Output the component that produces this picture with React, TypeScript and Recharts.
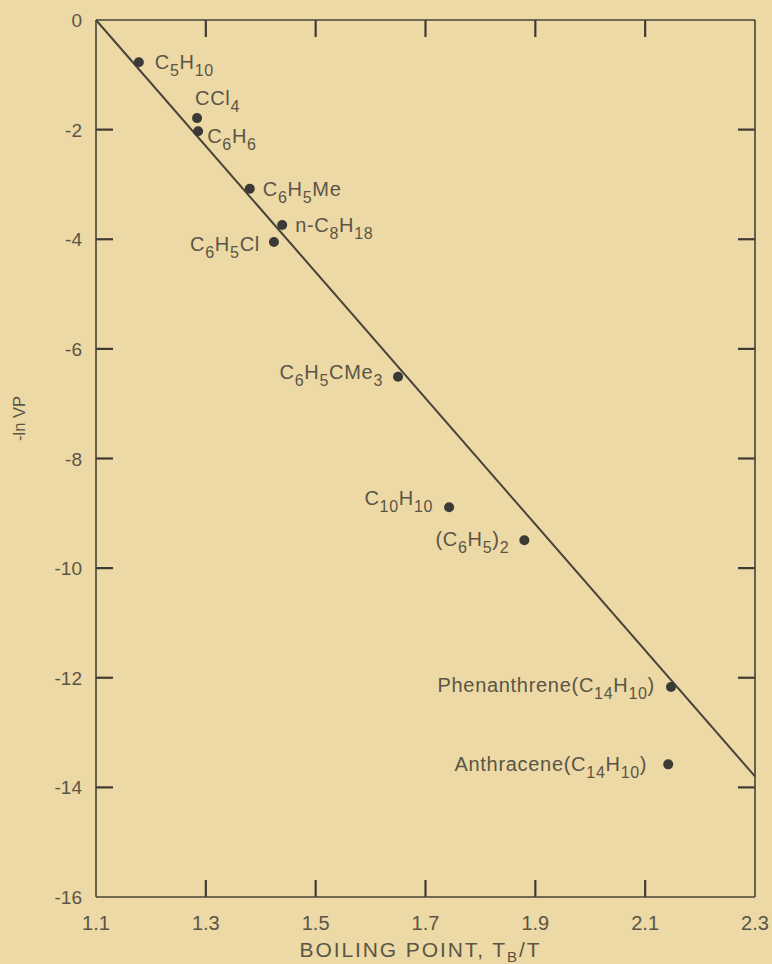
import React from 'react';
import { ScatterChart, Scatter, XAxis, YAxis, ReferenceLine, Label } from 'recharts';

// compound names, subscripts written in braces
const COMPOUNDS = [
  'C{5}H{10}',
  'CCl{4}',
  'C{6}H{6}',
  'C{6}H{5}Me',
  'n-C{8}H{18}',
  'C{6}H{5}Cl',
  'C{6}H{5}CMe{3}',
  'C{10}H{10}',
  '(C{6}H{5}){2}',
  'Phenanthrene(C{14}H{10})',
  'Anthracene(C{14}H{10})',
];
const BOILING_RATIO = [1.178, 1.284, 1.286, 1.38, 1.439, 1.424, 1.65, 1.743, 1.88, 2.147, 2.142];
const NEG_LN_VP = [-0.77, -1.79, -2.03, -3.08, -3.74, -4.05, -6.51, -8.89, -9.49, -12.17, -13.58];

const X_TICKS = [1.1, 1.3, 1.5, 1.7, 1.9, 2.1, 2.3];
const Y_TICKS = [0, -2, -4, -6, -8, -10, -12, -14, -16];

// fitted straight line end points
const FIT_X = [1.1, 2.3];
const FIT_Y = [0, -13.8];

// label placement next to each dot: anchor, dx, dy(baseline)
const LABEL_POS: [string, number, number][] = [
  ['start', 16, 7],
  ['start', -2, -13],
  ['start', 9, 12],
  ['start', 13, 7],
  ['start', 13, 7],
  ['end', -14, 9],
  ['end', -15, 2],
  ['end', -16, -2],
  ['end', -15, 6],
  ['end', -16, 5],
  ['end', -21, 7],
];

const BG = '#ecd9a5';
const INK = '#47433a';
const TICK_INK = '#3f3b33';
const TEXT = '#5a5546';
const DOT = '#3b3a36';
const FONT = "'Liberation Sans', Arial, sans-serif";
// inward tick mark length in axis units (about 17px)
const X_TICK_LEN = 0.31;
const Y_TICK_LEN = 0.031;

const points = COMPOUNDS.map((name, i) => ({ name, x: BOILING_RATIO[i], y: NEG_LN_VP[i], idx: i }));

const formula = (s: string, size: number, subSize: number, shift: number) => {
  const parts = s.split(/(\{[^}]*\})/).filter(Boolean);
  let inSub = false;
  return parts.map((p, i) => {
    const isSub = p.startsWith('{');
    const dy = isSub && !inSub ? shift : !isSub && inSub ? -shift : 0;
    inSub = isSub;
    return (
      <tspan key={i} dy={dy} fontSize={isSub ? subSize : size}>
        {isSub ? p.slice(1, -1) : p}
      </tspan>
    );
  });
};

const DotWithLabel = (props: any) => {
  const { cx, cy, payload } = props;
  const [anchor, dx, dy] = LABEL_POS[payload.idx];
  return (
    <g>
      <circle cx={cx} cy={cy} r={5} fill={DOT} />
      <text x={cx + dx} y={cy + dy} textAnchor={anchor} fill={TEXT} fontFamily={FONT} letterSpacing={0.7}>
        {formula(payload.name, 20, 16, 7)}
      </text>
    </g>
  );
};

const BottomTick = ({ x, y, payload }: any) => (
  <text x={x} y={y + 33} textAnchor="middle" fill={TEXT} fontFamily={FONT} fontSize={20}>
    {payload.value.toFixed(1)}
  </text>
);

const LeftTick = ({ x, y, payload }: any) => (
  <text x={x - 14} y={y + 7} textAnchor="end" fill={TEXT} fontFamily={FONT} fontSize={19}>
    {payload.value}
  </text>
);

const frameLine = { stroke: INK, strokeWidth: 1.6 };

const App: React.FC = () => {
  const fit = FIT_X.map((x, i) => ({ x, y: FIT_Y[i] }));
  const [xMin, xMax] = [X_TICKS[0], X_TICKS[X_TICKS.length - 1]];
  const [yMax, yMin] = [Y_TICKS[0], Y_TICKS[Y_TICKS.length - 1]];
  const innerX = X_TICKS.slice(1, -1);
  const innerY = Y_TICKS.slice(1, -1);
  // inward tick marks on all four sides of the frame
  const marks = [
    ...innerX.map((v) => [{ x: v, y: yMin }, { x: v, y: yMin + X_TICK_LEN }]),
    ...innerX.map((v) => [{ x: v, y: yMax }, { x: v, y: yMax - X_TICK_LEN }]),
    ...innerY.map((v) => [{ x: xMin, y: v }, { x: xMin + Y_TICK_LEN, y: v }]),
    ...innerY.map((v) => [{ x: xMax, y: v }, { x: xMax - Y_TICK_LEN, y: v }]),
  ];
  return (
    <div style={{ position: 'absolute', left: 0, top: 0, width: 772, height: 964, background: BG }}>
      <ScatterChart width={772} height={964} margin={{ top: 19, right: 16, bottom: 27, left: 16 }}>
        <XAxis
          type="number"
          dataKey="x"
          domain={[xMin, xMax]}
          ticks={X_TICKS}
          interval={0}
          height={40}
          tickSize={0}
          tickMargin={0}
          tickLine={false}
          axisLine={frameLine}
          tick={<BottomTick />}
        >
          <Label
            content={({ viewBox }: any) => (
              <text
                x={viewBox.x + viewBox.width / 2 - 5}
                y={viewBox.y + 60}
                textAnchor="middle"
                fill={TEXT}
                fontFamily={FONT}
                fontSize={21}
                letterSpacing={1.9}
              >
                <tspan>BOILING POINT, T</tspan>
                <tspan dy={5} fontSize={15}>B</tspan>
                <tspan dy={-5}>/T</tspan>
              </text>
            )}
          />
        </XAxis>
        <XAxis
          xAxisId="top"
          orientation="top"
          type="number"
          dataKey="x"
          domain={[xMin, xMax]}
          height={1}
          tickLine={false}
          axisLine={frameLine}
          tick={false}
        />
        <YAxis
          type="number"
          dataKey="y"
          domain={[yMin, yMax]}
          ticks={Y_TICKS}
          interval={0}
          width={80}
          tickSize={0}
          tickMargin={0}
          tickLine={false}
          axisLine={frameLine}
          tick={<LeftTick />}
        >
          <Label
            content={({ viewBox }: any) => {
              const cx = viewBox.x + 9;
              const cy = viewBox.y + viewBox.height / 2 - 40;
              return (
                <text
                  x={cx}
                  y={cy}
                  transform={`rotate(-90 ${cx} ${cy})`}
                  textAnchor="middle"
                  fill={TEXT}
                  fontFamily={FONT}
                  fontSize={16.5}
                >
                  -ln VP
                </text>
              );
            }}
          />
        </YAxis>
        <YAxis
          yAxisId="right"
          orientation="right"
          type="number"
          dataKey="y"
          domain={[yMin, yMax]}
          width={1}
          tickLine={false}
          axisLine={frameLine}
          tick={false}
        />
        {marks.map((seg, i) => (
          <ReferenceLine key={`m${i}`} segment={seg} stroke={TICK_INK} strokeWidth={2.2} ifOverflow="visible" />
        ))}
        <ReferenceLine segment={fit} stroke={INK} strokeWidth={2} ifOverflow="visible" />
        <Scatter data={points} isAnimationActive={false} shape={<DotWithLabel />} />
      </ScatterChart>
    </div>
  );
};

export default App;
